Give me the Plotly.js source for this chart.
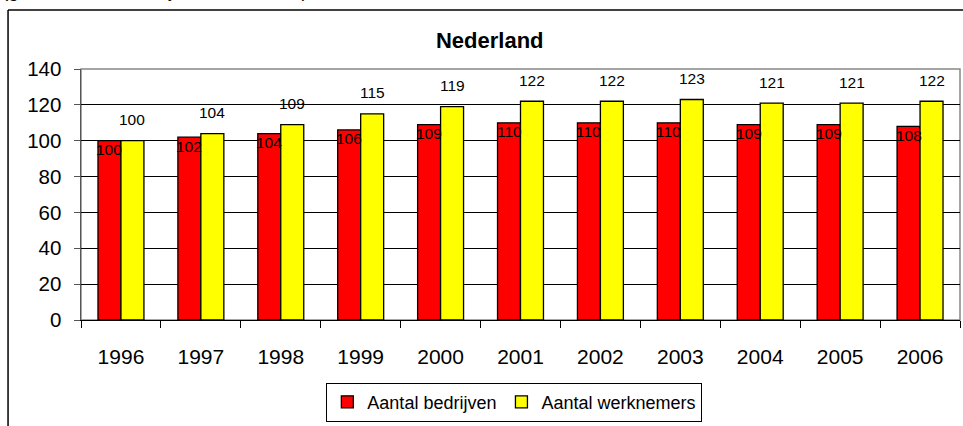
<!DOCTYPE html>
<html>
<head>
<meta charset="utf-8">
<script src="https://cdn.plot.ly/plotly-3.0.1.min.js"></script>
<style>html,body{margin:0;padding:0;background:#fff;}#chart{width:963px;height:426px;}</style>
</head>
<body>
<div id="chart"></div>
<script>
const years = ['1996','1997','1998','1999','2000','2001','2002','2003','2004','2005','2006'];
const bedrijven = [100,102,104,106,109,110,110,110,109,109,108];
const werknemers = [100,104,109,115,119,122,122,123,121,121,122];
const seriesNames = ['Aantal bedrijven','Aantal werknemers'];
const chartTitle = 'Nederland';
const topNote = '(geïndexeerd, basisjaar 1996 = 100)';

const FONT = 'Liberation Sans, Arial, sans-serif';

const traces = [
  {type:'bar', x:years, y:bedrijven, name:seriesNames[0],
   marker:{color:'#FF0000', line:{color:'#000000', width:1.3}}, hoverinfo:'x+y'},
  {type:'bar', x:years, y:werknemers, name:seriesNames[1],
   marker:{color:'#FFFF00', line:{color:'#000000', width:1.3}}, hoverinfo:'x+y'}
];

// category axis: annotation x uses the serial index of each category
const annotations = [];
years.forEach((yr,i)=>{
  annotations.push({x:i, y:bedrijven[i], xref:'x', yref:'y', text:String(bedrijven[i]),
    showarrow:false, xshift:-11.5, yshift:-9, font:{family:FONT, size:15.5, color:'#000'}});
  annotations.push({x:i, y:werknemers[i], xref:'x', yref:'y', text:String(werknemers[i]),
    showarrow:false, xshift:11.5, yshift:21, font:{family:FONT, size:15.5, color:'#000'}});
});
annotations.push({xref:'paper', yref:'paper', x:-0.092, y:1.262, xanchor:'left', yanchor:'bottom',
  text:topNote, showarrow:false, font:{family:FONT, size:19, color:'#000'}});

const layout = {
  width:963, height:426,
  margin:{l:81, r:3, t:69, b:106},
  paper_bgcolor:'#ffffff', plot_bgcolor:'#ffffff',
  font:{family:FONT, color:'#000'},
  title:{text:'<b>'+chartTitle+'</b>', font:{family:FONT, size:22, color:'#000'},
    xref:'paper', x:0.465, xanchor:'center', yref:'container', y:0.905, yanchor:'middle'},
  barmode:'group', bargap:0.425, bargroupgap:0,
  showlegend:true,
  legend:{orientation:'h', x:0.493, xanchor:'center', y:-0.327, yanchor:'middle',
    bordercolor:'#000', borderwidth:1, bgcolor:'#fff',
    font:{family:FONT, size:18, color:'#000'}, itemwidth:30, tracegroupgap:0},
  xaxis:{type:'category', range:[-0.5, years.length-0.5], autorange:false,
    showgrid:false, showline:true, linecolor:'#000', linewidth:1.3,
    ticks:'outside', tickson:'boundaries', ticklen:7, tickcolor:'#000', tickwidth:1,
    tickangle:0,
    tickfont:{family:FONT, size:21, color:'#000'}, ticklabelstandoff:17, zeroline:false},
  yaxis:{range:[0,140], autorange:false, dtick:20, showgrid:true, gridcolor:'#000', gridwidth:1,
    showline:true, linecolor:'#555', linewidth:1.5, ticks:'outside', ticklen:6,
    tickcolor:'#555', tickfont:{family:FONT, size:20.5, color:'#000'},
    ticklabelstandoff:8, zeroline:false},
  annotations:annotations,
  shapes:[
    {type:'rect', xref:'paper', yref:'paper', x0:0, x1:1, y0:0, y1:1,
     line:{color:'#888', width:1.5}, layer:'below'},
    {type:'line', xref:'paper', yref:'paper', x0:-0.083, x1:-0.083, y0:1.235, y1:-0.5,
     line:{color:'#000', width:1.5}},
    {type:'line', xref:'paper', yref:'paper', x0:-0.083, x1:1.05, y0:1.235, y1:1.235,
     line:{color:'#000', width:1.5}}
  ]
};

Plotly.newPlot('chart', traces, layout, {displayModeBar:false, staticPlot:true});
</script>
</body>
</html>
